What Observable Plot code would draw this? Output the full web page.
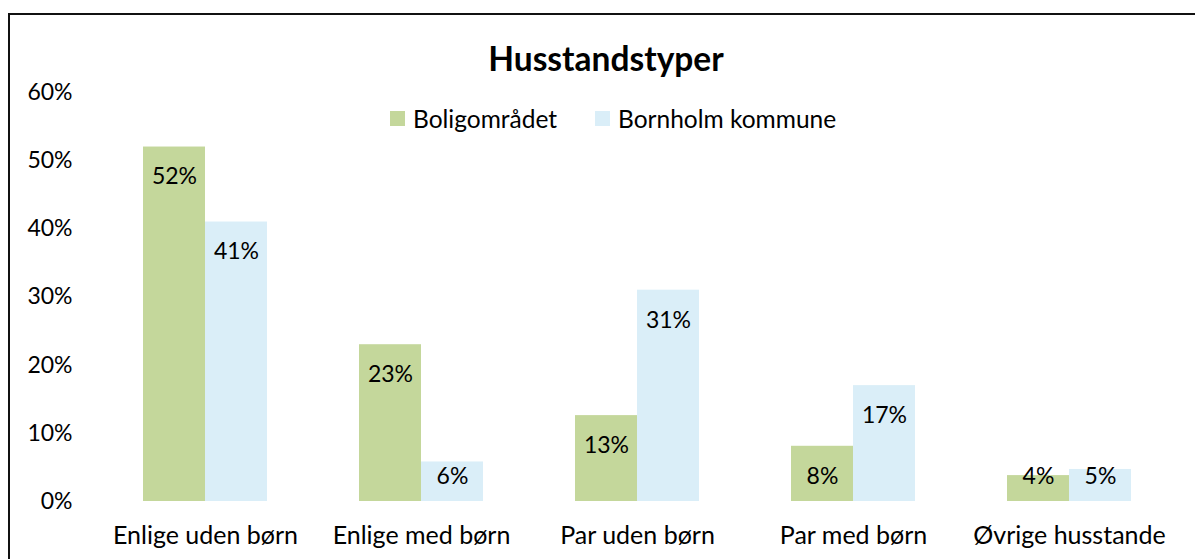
<!DOCTYPE html>
<html>
<head>
<meta charset="utf-8">
<script src="https://cdn.jsdelivr.net/npm/d3@7"></script>
<script src="https://cdn.jsdelivr.net/npm/@observablehq/plot@0.6"></script>
<style>
  html, body { margin: 0; padding: 0; background: #fff; }
  #wrap { position: relative; width: 1195px; height: 559px; overflow: hidden; font-family: Lato, "Open Sans", sans-serif; color: #000; }
  #frame { position: absolute; left: 8px; top: 13px; width: 1300px; height: 700px; border-top: 2px solid #111; border-left: 2px solid #111; box-sizing: border-box; }
  #chart { position: absolute; left: 0; top: 0; }
  #title { position: absolute; left: 0; width: 1212px; top: 37px; text-align: center; font-weight: bold; font-size: 33.5px; line-height: 42px; }
  #legend { position: absolute; top: 104px; left: 390px; height: 28px; display: flex; align-items: center; font-size: 24.5px; }
  .item { display: flex; align-items: center; }
  .sw { width: 15px; height: 15px; margin-right: 8px; }
</style>
</head>
<body>
<div id="wrap">
  <div id="frame"></div>
  <div id="chart"></div>
  <div id="title">Husstandstyper</div>
  <div id="legend"></div>
</div>
<script>
const categories = ["Enlige uden børn", "Enlige med børn", "Par uden børn", "Par med børn", "Øvrige husstande"];
const seriesNames = ["Boligområdet", "Bornholm kommune"];
const boligomraadet = [52, 23, 12.6, 8.1, 3.8];
const bornholm = [41, 5.8, 31, 17, 4.7];
const colors = ["#C4D79B", "#DAEEF8"];
const yTicks = [0, 10, 20, 30, 40, 50, 60];

const data = [];
categories.forEach((c, i) => {
  data.push({cat: c, series: seriesNames[0], value: boligomraadet[i]});
  data.push({cat: c, series: seriesNames[1], value: bornholm[i]});
});

const fontFamily = "Lato, 'Open Sans', sans-serif";

const chart = Plot.plot({
  width: 1195,
  height: 559,
  marginTop: 92,
  marginBottom: 58,
  marginLeft: 97,
  marginRight: 18,
  style: {fontFamily, fontSize: "23px", color: "#000", background: "transparent", overflow: "visible"},
  fx: {domain: categories, paddingInner: 0.426, paddingOuter: 0.213, axis: null, label: null},
  x: {domain: seriesNames, padding: 0, axis: null},
  y: {domain: [0, 60], axis: null},
  color: {domain: seriesNames, range: colors},
  marks: [
    Plot.axisY({ticks: yTicks, tickFormat: d => d + "%", tickSize: 0, tickPadding: 71, label: null, fontSize: 23, fill: "#000"}),
    Plot.axisFx({anchor: "bottom", tickSize: 0, tickPadding: 25, label: null, fontSize: 25, fill: "#000"}),
    Plot.barY(data, {fx: "cat", x: "series", y: "value", fill: "series"}),
    Plot.text(data, {fx: "cat", x: "series", y: d => Math.max(d.value, 8.1), dy: 30, text: d => Math.round(d.value) + "%", fill: "#000", fontSize: 23})
  ]
});
document.getElementById("chart").appendChild(chart);

const legend = document.getElementById("legend");
seriesNames.forEach((s, i) => {
  const it = document.createElement("div");
  it.className = "item";
  it.style.marginRight = i === 0 ? "38px" : "0";
  const sw = document.createElement("div");
  sw.className = "sw";
  sw.style.background = colors[i];
  const t = document.createElement("span");
  t.textContent = s;
  it.appendChild(sw); it.appendChild(t);
  legend.appendChild(it);
});
</script>
</body>
</html>
